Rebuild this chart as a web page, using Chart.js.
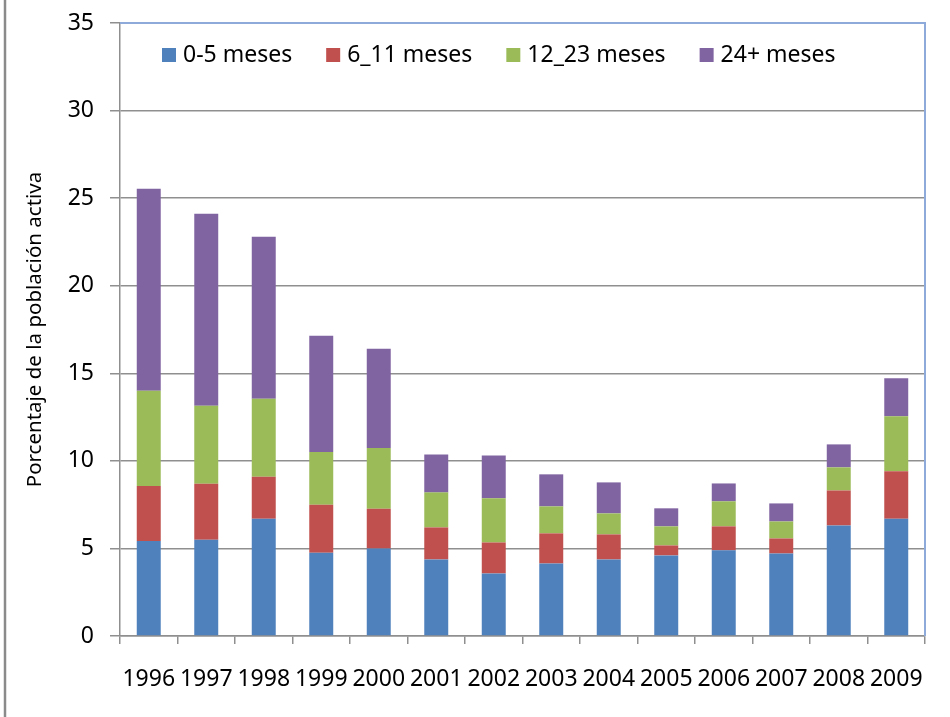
<!DOCTYPE html>
<html>
<head>
<meta charset="utf-8">
<script src="https://cdn.jsdelivr.net/npm/chart.js@4/dist/chart.umd.min.js"></script>
<style>
  html, body { margin: 0; padding: 0; background: #ffffff; }
  #wrap { position: relative; width: 950px; height: 717px; }
</style>
</head>
<body>
<div id="wrap"><canvas id="chart" width="950" height="717"></canvas></div>
<script>
// Desempleo por duración, % de la población activa
const years = ['1996', '1997', '1998', '1999', '2000', '2001', '2002', '2003', '2004', '2005', '2006', '2007', '2008', '2009'];
const seriesNames = ['0-5 meses', '6_11 meses', '12_23 meses', '24+ meses'];
const meses0a5   = [5.43, 5.49, 6.70, 4.76, 5.00, 4.37, 3.57, 4.14, 4.37, 4.60, 4.89, 4.71, 6.31, 6.70];
const meses6a11  = [3.14, 3.20, 2.39, 2.73, 2.26, 1.83, 1.77, 1.72, 1.43, 0.57, 1.37, 0.86, 2.00, 2.70];
const meses12a23 = [5.43, 4.45, 4.45, 3.02, 3.48, 2.00, 2.52, 1.54, 1.20, 1.09, 1.43, 0.97, 1.32, 3.14];
const meses24mas = [11.54, 10.97, 9.26, 6.63, 5.66, 2.17, 2.45, 1.83, 1.77, 1.03, 1.02, 1.03, 1.31, 2.17];
const yTicks = [0, 5, 10, 15, 20, 25, 30, 35];
const yTitle = 'Porcentaje de la población activa';

const colors = ['#4f81bd', '#c0504d', '#9bbb59', '#8064a2'];
const FONT = "'Noto Sans', 'Open Sans', sans-serif";
const GRID = '#8f8f8f';

// Outer frame line on the left and the blue plot-area border on top/right
const framePlugin = {
  id: 'frame',
  beforeDraw(chart) {
    const ctx = chart.ctx;
    ctx.save();
    ctx.fillStyle = '#ffffff';
    ctx.fillRect(0, 0, chart.width, chart.height);
    ctx.strokeStyle = '#8a8a8a';
    ctx.lineWidth = 2.5;
    ctx.beginPath();
    ctx.moveTo(5, 0);
    ctx.lineTo(5, chart.height);
    ctx.stroke();
    ctx.restore();
  },
  afterDraw(chart) {
    const {ctx, chartArea: a} = chart;
    ctx.save();
    ctx.strokeStyle = '#8eaadb';
    ctx.lineWidth = 2;
    ctx.beginPath();
    ctx.moveTo(a.left, a.top);
    ctx.lineTo(a.right, a.top);
    ctx.lineTo(a.right, a.bottom);
    ctx.stroke();
    ctx.restore();
  }
};

// Legend drawn inside the plot area, one row
const insideLegend = {
  id: 'insideLegend',
  afterDraw(chart) {
    const {ctx, chartArea: a} = chart;
    ctx.save();
    ctx.font = '23px ' + FONT;
    ctx.textBaseline = 'middle';
    ctx.textAlign = 'left';
    let x = a.left + 42;
    const y = a.top + 32;
    chart.data.datasets.forEach(ds => {
      ctx.fillStyle = ds.backgroundColor;
      ctx.fillRect(x, y - 7, 14, 14);
      ctx.fillStyle = '#000000';
      ctx.fillText(ds.label, x + 21, y);
      x += 21 + ctx.measureText(ds.label).width + 34;
    });
    ctx.restore();
  }
};

const datasets = [meses0a5, meses6a11, meses12a23, meses24mas].map((vals, i) => ({
  label: seriesNames[i],
  data: vals,
  backgroundColor: colors[i],
  borderWidth: 0,
  barPercentage: 0.417,
  categoryPercentage: 1.0
}));

new Chart(document.getElementById('chart'), {
  type: 'bar',
  data: { labels: years, datasets },
  options: {
    responsive: false,
    animation: false,
    layout: { padding: { top: 23, right: 25, left: 0, bottom: 0 } },
    plugins: {
      legend: { display: false },
      tooltip: { enabled: false }
    },
    scales: {
      x: {
        stacked: true,
        grid: { display: true, drawOnChartArea: false, drawTicks: true, tickLength: 8, color: GRID, lineWidth: 1.5 },
        border: { display: true, color: GRID, width: 1.5 },
        ticks: { font: { family: FONT, size: 23 }, color: '#000000', padding: 22, maxRotation: 0, autoSkip: false },
        afterFit(scale) { scale.height = 81; scale.paddingLeft = 0; scale.paddingRight = 0; }
      },
      y: {
        stacked: true,
        min: 0,
        max: 35,
        afterBuildTicks(scale) { scale.ticks = yTicks.map(v => ({ value: v })); },
        grid: { color: GRID, lineWidth: 1.5, drawTicks: true, tickLength: 10 },
        border: { display: true, color: GRID, width: 1.5 },
        ticks: { font: { family: FONT, size: 23 }, color: '#000000', padding: 16 },
        title: { display: true, text: yTitle, font: { family: FONT, size: 20.5 }, color: '#000000', padding: { top: 23, bottom: 0 } },
        afterFit(scale) { scale.width = 120; scale.paddingTop = 0; scale.paddingBottom = 0; }
      }
    }
  },
  plugins: [framePlugin, insideLegend]
});
</script>
</body>
</html>
